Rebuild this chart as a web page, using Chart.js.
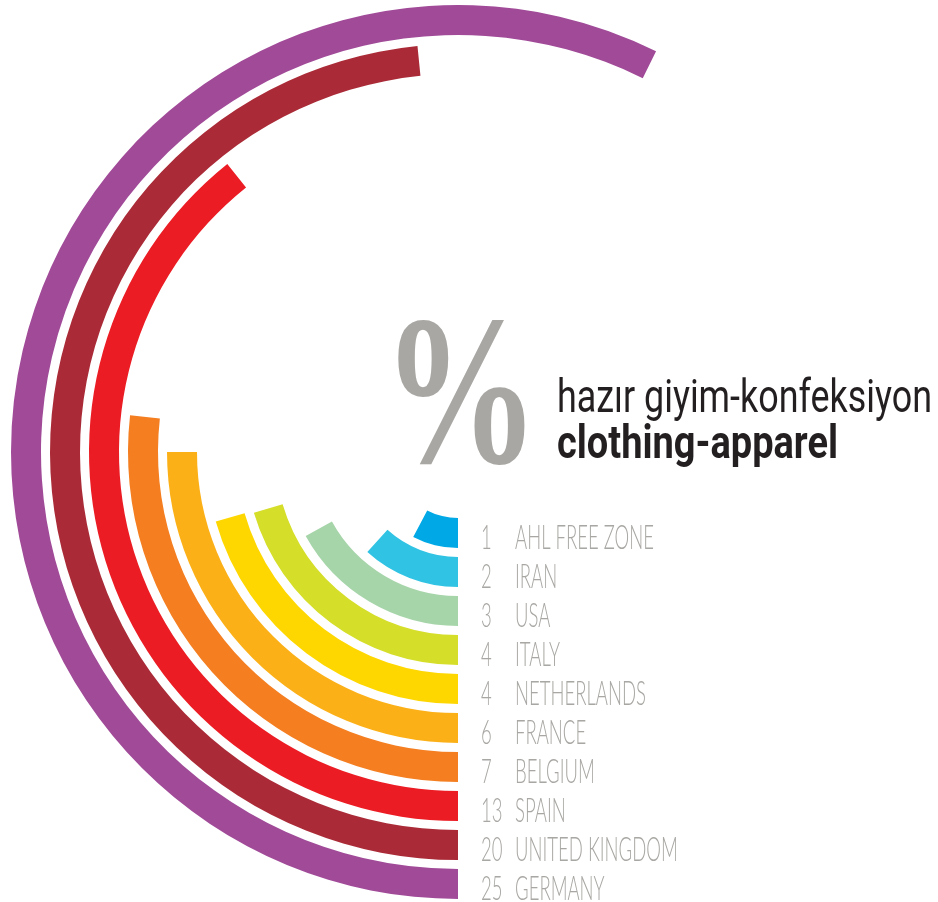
<!DOCTYPE html>
<html>
<head>
<meta charset="utf-8">
<script src="https://cdn.jsdelivr.net/npm/chart.js@4/dist/chart.umd.min.js"></script>
<style>
  html, body { margin: 0; padding: 0; background: #ffffff; }
  #wrap { width: 938px; height: 902px; position: relative; }
</style>
</head>
<body>
<div id="wrap"><canvas id="c" width="938" height="902"></canvas></div>
<script>
// ---- data (inner ring first) ----
const countries = ['AHL FREE ZONE', 'IRAN', 'USA', 'ITALY', 'NETHERLANDS', 'FRANCE', 'BELGIUM', 'SPAIN', 'UNITED KINGDOM', 'GERMANY'];
const shares = [1, 2, 3, 4, 4, 6, 7, 13, 20, 25];
// arc sweep of each ring in degrees, as drawn in the picture (starting at 6 o'clock, clockwise)
const arcDegrees = [27.8, 42.2, 61.1, 73.4, 74.0, 90.0, 96.4, 141.3, 174.3, 206.3];
const titleTr = 'hazır giyim-konfeksiyon';
const titleEn = 'clothing-apparel';
const percentSign = '%';

// ---- styles ----
const ringColors = ['#00a8e6', '#31c3e3', '#a7d5aa', '#d5de28', '#fed700', '#fcb017', '#f47e20', '#ec1c24', '#aa2b37', '#a04a98'];
const RING_W = 30, GAP_W = 9;
const CLEAR = 'rgba(0,0,0,0)';

const datasets = [];
for (let i = countries.length - 1; i >= 0; i--) {
  datasets.push({
    label: countries[i],
    ringIndex: i,
    data: [arcDegrees[i], 360 - arcDegrees[i]],
    backgroundColor: [ringColors[i], CLEAR],
    borderWidth: 0,
    weight: RING_W
  });
  if (i > 0) {
    datasets.push({ label: '', data: [360], backgroundColor: [CLEAR], borderWidth: 0, weight: GAP_W });
  }
}

function fitText(ctx, text, x, y, targetW, font, color) {
  ctx.save();
  ctx.font = font;
  ctx.fillStyle = color;
  ctx.textBaseline = 'alphabetic';
  ctx.textAlign = 'left';
  const w = ctx.measureText(text).width;
  ctx.translate(x, y);
  ctx.scale(targetW / w, 1);
  ctx.fillText(text, 0, 0);
  ctx.restore();
}

const textPlugin = {
  id: 'texts',
  afterDatasetsDraw(chart) {
    const ctx = chart.ctx;
    let cx = 0, cy = 0;
    // ring labels
    ctx.save();
    const labelFont = '300 34px Lato, "Liberation Sans", sans-serif';
    ctx.font = labelFont;
    const labelScale = 139 / ctx.measureText('AHL FREE ZONE').width;
    chart.data.datasets.forEach((ds, di) => {
      if (ds.ringIndex === undefined) return;
      const arc = chart.getDatasetMeta(di).data[0];
      cx = arc.x; cy = arc.y;
      const r = (arc.innerRadius + arc.outerRadius) / 2;
      const base = arc.y + r + 16;
      const i = ds.ringIndex;
      ctx.fillStyle = '#a8a7a3';
      ctx.textBaseline = 'alphabetic';
      ctx.save();
      ctx.translate(arc.x + 23, base);
      ctx.scale(labelScale, 1);
      ctx.fillText(String(shares[i]), 0, 0);
      ctx.restore();
      ctx.save();
      ctx.translate(arc.x + 57, base);
      ctx.scale(labelScale, 1);
      ctx.fillText(countries[i], 0, 0);
      ctx.restore();
    });
    ctx.restore();

    // big percent sign fitted into its box
    ctx.save();
    ctx.font = '700 200px "Liberation Serif", "DejaVu Serif", serif';
    ctx.fillStyle = '#a8a7a3';
    ctx.textBaseline = 'alphabetic';
    const m = ctx.measureText(percentSign);
    const gw = m.actualBoundingBoxLeft + m.actualBoundingBoxRight;
    const gh = m.actualBoundingBoxAscent + m.actualBoundingBoxDescent;
    ctx.translate(cx - 60, cy - 132);
    ctx.scale(127 / gw, 145 / gh);
    ctx.fillText(percentSign, m.actualBoundingBoxLeft, m.actualBoundingBoxAscent);
    ctx.restore();

    // titles
    fitText(ctx, titleTr, cx + 99, cy - 40, 375, '400 46px Roboto, "Liberation Sans", sans-serif', '#231f20');
    fitText(ctx, titleEn, cx + 99, cy + 6, 281, '700 46px Roboto, "Liberation Sans", sans-serif', '#231f20');
  }
};

new Chart(document.getElementById('c'), {
  type: 'doughnut',
  data: { labels: ['value', 'rest'], datasets },
  options: {
    responsive: false,
    animation: false,
    events: [],
    rotation: 180,
    circumference: 360,
    cutout: 66,
    layout: { padding: { left: 0, right: 22, top: 5, bottom: 3 } },
    plugins: { legend: { display: false }, tooltip: { enabled: false } }
  },
  plugins: [textPlugin]
});
</script>
</body>
</html>
